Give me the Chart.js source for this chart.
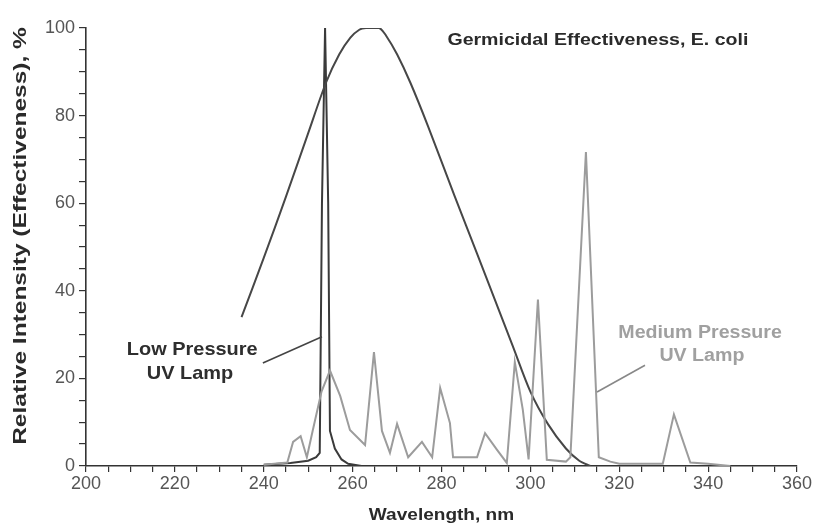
<!DOCTYPE html>
<html>
<head>
<meta charset="utf-8">
<script src="https://cdn.jsdelivr.net/npm/chart.js@4.4.0/dist/chart.umd.min.js"></script>
<style>
  html, body { margin: 0; padding: 0; background: #fff; }
  #wrap { width: 814px; height: 524px; }
</style>
</head>
<body>
<div id="wrap"><canvas id="uvChart" width="814" height="524"></canvas></div>
<script>
// Values: wavelength (nm) and relative intensity (%)
const germicidalNm = [235, 240, 245, 250, 254, 257, 259.5, 261.5, 263, 266, 267.5, 270, 273, 277, 283, 288, 292, 296, 300, 304, 308, 311, 313.5];
const germicidalPct = [34, 47.5, 61.5, 76, 87.5, 94, 97.8, 99.6, 100, 100, 98.3, 94, 87.5, 77.5, 61.5, 48.5, 38, 27.5, 17, 9.5, 4, 1.2, 0];

const lowPressureNm = [240, 246, 250, 251.8, 252.6, 253.1, 253.8, 254.5, 254.9, 256, 257.5, 259, 262];
const lowPressurePct = [0.3, 0.7, 1.2, 2, 3, 60, 100, 60, 8, 4, 1.5, 0.5, 0];

const mediumPressureNm = [240, 245.3, 246.6, 248.3, 249.7, 251, 253, 254.9, 257.2, 259.4,
    262.8, 264.8, 266.6, 268.4, 270, 272.5, 275.6, 277.9, 279.7, 281.9,
    282.6, 288, 289.8, 292.5, 294.7, 296.5, 298.3, 299.6, 301.7, 303.7,
    308, 309, 312.5, 315.4, 318, 320, 329.8, 332.3, 336, 340, 345];
const mediumPressurePct = [0.3, 0.8, 5.5, 6.8, 2, 8, 17, 21.8, 16, 8.2,
    4.8, 26, 8, 3, 9.6, 2, 5.5, 2, 17.8, 9.8,
    2, 2, 7.5, 3.7, 0.7, 23.7, 12.8, 1.5, 38, 1.4,
    1, 2, 71.7, 2, 1, 0.5, 0.5, 11.8, 0.8, 0.5, 0];

const xTickLabels = [200, 220, 240, 260, 280, 300, 320, 340, 360];
const yTickLabels = [0, 20, 40, 60, 80, 100];

const FONT = '"Liberation Sans", Arial, Helvetica, sans-serif';

function toPoints(xs, ys) {
    return xs.map((x, i) => ({ x: x, y: ys[i] }));
}

// Notes and leader lines, placed in data units
const notes = [
    { text: 'Germicidal Effectiveness, E. coli', x: 315.2, y: 97.3, size: 17, stretch: 1.15, color: '#2a2a2a' },
    { text: 'Low Pressure', x: 223.9, y: 26.5, size: 19, stretch: 1.05, color: '#2e2e2e' },
    { text: 'UV Lamp', x: 223.4, y: 21, size: 19, stretch: 1.05, color: '#2e2e2e' },
    { text: 'Medium Pressure', x: 338.2, y: 30.3, size: 18, stretch: 1.09, color: '#a0a0a0' },
    { text: 'UV Lamp', x: 338.6, y: 25.1, size: 18, stretch: 1.09, color: '#a0a0a0' }
];
const leaders = [
    { from: [239.8, 23.5], to: [253.1, 29.5], color: '#444' },
    { from: [315, 16.9], to: [325.8, 23], color: '#888' }
];

function drawStretched(ctx, text, px, py, size, stretch, color, angle) {
    ctx.save();
    ctx.translate(px, py);
    if (angle) ctx.rotate(angle);
    ctx.scale(stretch, 1);
    ctx.font = 'bold ' + size + 'px ' + FONT;
    ctx.fillStyle = color;
    ctx.textAlign = 'center';
    ctx.textBaseline = 'middle';
    ctx.fillText(text, 0, 0);
    ctx.restore();
}

const notesPlugin = {
    id: 'notes',
    afterDatasetsDraw(chart) {
        const ctx = chart.ctx;
        const xs = chart.scales.x;
        const ys = chart.scales.y;
        const area = chart.chartArea;

        leaders.forEach(l => {
            ctx.save();
            ctx.strokeStyle = l.color;
            ctx.lineWidth = 1.6;
            ctx.beginPath();
            ctx.moveTo(xs.getPixelForValue(l.from[0]), ys.getPixelForValue(l.from[1]));
            ctx.lineTo(xs.getPixelForValue(l.to[0]), ys.getPixelForValue(l.to[1]));
            ctx.stroke();
            ctx.restore();
        });

        notes.forEach(n => {
            drawStretched(ctx, n.text, xs.getPixelForValue(n.x), ys.getPixelForValue(n.y),
                n.size, n.stretch, n.color, 0);
        });

        // axis titles
        drawStretched(ctx, 'Wavelength, nm', (area.left + area.right) / 2, 515, 17, 1.12, '#2a2a2a', 0);
        drawStretched(ctx, 'Relative Intensity (Effectiveness), %', 21, (area.top + area.bottom) / 2 - 11,
            18, 1.36, '#2a2a2a', -Math.PI / 2);
    }
};

const lineStyle = {
    showLine: true,
    pointRadius: 0,
    borderWidth: 2,
    fill: false
};

const config = {
    type: 'scatter',
    data: {
        datasets: [
            Object.assign({
                label: 'Medium Pressure UV Lamp',
                data: toPoints(mediumPressureNm, mediumPressurePct),
                borderColor: '#9c9c9c',
                tension: 0
            }, lineStyle),
            Object.assign({
                label: 'Germicidal Effectiveness, E. coli',
                data: toPoints(germicidalNm, germicidalPct),
                borderColor: '#474747',
                tension: 0.3
            }, lineStyle),
            Object.assign({
                label: 'Low Pressure UV Lamp',
                data: toPoints(lowPressureNm, lowPressurePct),
                borderColor: '#3a3a3a',
                borderWidth: 1.8,
                tension: 0
            }, lineStyle)
        ]
    },
    options: {
        responsive: false,
        animation: false,
        layout: {
            padding: { top: 28, right: 17, left: 0, bottom: 0 }
        },
        plugins: {
            legend: { display: false },
            tooltip: { enabled: false },
            title: { display: false }
        },
        scales: {
            x: {
                type: 'linear',
                min: 200,
                max: 360,
                afterFit: s => { s.height = 58; },
                border: { display: true, color: '#333', width: 1.6 },
                grid: {
                    drawOnChartArea: false,
                    drawTicks: true,
                    tickLength: 6,
                    color: '#333',
                    lineWidth: 1.2
                },
                ticks: {
                    stepSize: 5,
                    autoSkip: false,
                    maxRotation: 0,
                    padding: 1,
                    color: '#555',
                    font: { family: FONT, size: 18 },
                    callback: v => xTickLabels.includes(v) ? String(v) : ''
                }
            },
            y: {
                type: 'linear',
                min: 0,
                max: 100,
                afterFit: s => { s.width = 86; },
                border: { display: true, color: '#333', width: 1.6 },
                grid: {
                    drawOnChartArea: false,
                    drawTicks: true,
                    tickLength: 7,
                    color: '#333',
                    lineWidth: 1.2
                },
                ticks: {
                    stepSize: 5,
                    autoSkip: false,
                    padding: 4,
                    color: '#555',
                    font: { family: FONT, size: 18 },
                    callback: v => yTickLabels.includes(v) ? String(v) : ''
                }
            }
        }
    },
    plugins: [notesPlugin]
};

new Chart(document.getElementById('uvChart').getContext('2d'), config);
</script>
</body>
</html>
